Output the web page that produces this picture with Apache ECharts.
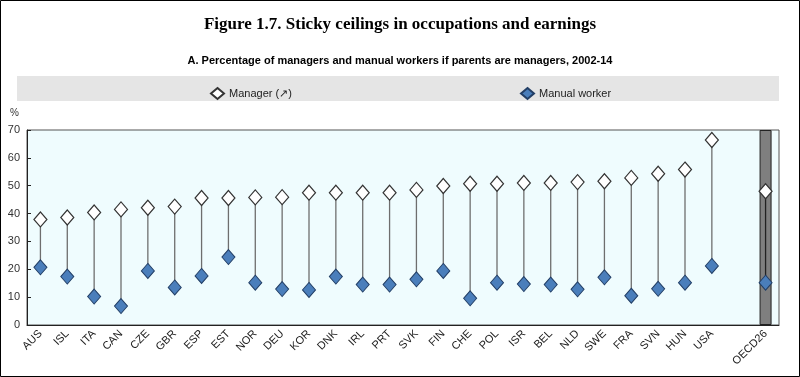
<!DOCTYPE html>
<html>
<head>
<meta charset="utf-8">
<script src="https://cdn.jsdelivr.net/npm/echarts@6/dist/echarts.min.js"></script>
<style>
  html, body { margin: 0; padding: 0; background: #fff; }
  #main { width: 800px; height: 377px; }
</style>
</head>
<body>
<div id="main"></div>
<script>
var countries = ['AUS', 'ISL', 'ITA', 'CAN', 'CZE', 'GBR', 'ESP', 'EST', 'NOR', 'DEU', 'KOR', 'DNK', 'IRL', 'PRT',
  'SVK', 'FIN', 'CHE', 'POL', 'ISR', 'BEL', 'NLD', 'SWE', 'FRA', 'SVN', 'HUN', 'USA', '', 'OECD26'];
var manager = [37.9, 38.6, 40.4, 41.5, 42.1, 42.5, 45.6, 45.6, 45.8, 45.9, 47.5, 47.5, 47.5, 47.5,
  48.5, 49.9, 50.7, 50.7, 51.0, 51.0, 51.3, 51.6, 52.8, 54.3, 55.8, 66.4, null, 48.0];
var manual = [20.7, 17.4, 10.2, 6.8, 19.4, 13.5, 17.6, 24.4, 15.2, 12.9, 12.6, 17.4, 14.5, 14.5,
  16.4, 19.4, 9.6, 15.2, 14.7, 14.5, 12.8, 17.1, 10.5, 13.0, 15.2, 21.2, null, 15.2];
var yTicks = [0, 10, 20, 30, 40, 50, 60, 70];
var highlight = 'OECD26';

var chart = echarts.init(document.getElementById('main'));

// whisker lines + the grey OECD band, built from the arrays above
var ranges = [];
var band = [];
for (var i = 0; i < countries.length; i++) {
  if (manager[i] != null) ranges.push([i, manual[i], manager[i]]);
  band.push(countries[i] === highlight ? yTicks[yTicks.length - 1] : null);
}

var sans = '"Liberation Sans Narrow", "Arial Narrow", "Liberation Sans", Arial, sans-serif';

var option = {
  backgroundColor: '#ffffff',
  animation: false,
  title: [{
    text: 'Figure 1.7. Sticky ceilings in occupations and earnings',
    left: 'center',
    top: 11,
    textStyle: { fontFamily: '"Liberation Serif", "Times New Roman", serif', fontSize: 17, fontWeight: 'bold', color: '#000' }
  }, {
    text: 'A. Percentage of managers and manual workers if parents are managers, 2002-14',
    left: 'center',
    top: 50,
    textStyle: { fontFamily: sans, fontSize: 11, fontWeight: 'bold', color: '#000' }
  }],
  graphic: [{
    type: 'rect',
    shape: { x: 17, y: 76, width: 762, height: 25 },
    style: { fill: '#e5e5e5' },
    z: -1
  }, {
    type: 'text',
    left: 10, top: 108,
    style: { text: '%', font: '10px ' + sans, fill: '#333' }
  }, {
    type: 'rect',
    shape: { x: 0.5, y: 0.5, width: 799, height: 376 },
    style: { fill: null, stroke: '#000', lineWidth: 1 }
  }],
  legend: [{
    data: ['Manager (↗)'],
    left: 205, top: 82,
    itemWidth: 13, itemHeight: 11, itemGap: 10,
    textStyle: { fontFamily: sans, fontSize: 11, color: '#222' }
  }, {
    data: ['Manual worker'],
    left: 515, top: 82,
    itemWidth: 13, itemHeight: 11,
    textStyle: { fontFamily: sans, fontSize: 11, color: '#222' }
  }],
  grid: {
    left: 27, right: 21, top: 130, bottom: 52,
    show: true,
    backgroundColor: '#effcfe',
    borderColor: '#555',
    borderWidth: 1
  },
  xAxis: {
    type: 'category',
    data: countries,
    boundaryGap: true,
    axisLine: { lineStyle: { color: '#222' } },
    axisTick: { inside: true, length: 4, lineStyle: { color: '#222' } },
    axisLabel: { rotate: 45, fontFamily: sans, fontSize: 11, color: '#222', margin: 7 }
  },
  yAxis: {
    type: 'value',
    min: 0, max: 70, interval: 10,
    axisLine: { show: true, lineStyle: { color: '#222' } },
    axisTick: { show: true, inside: true, length: 4, lineStyle: { color: '#222' } },
    axisLabel: { fontFamily: sans, fontSize: 11, color: '#333', margin: 7 },
    splitLine: { show: false }
  },
  series: [{
    type: 'bar',
    data: band,
    barWidth: 12,
    silent: true,
    itemStyle: { color: '#7f7f7f', borderColor: '#222', borderWidth: 1 },
    z: 1
  }, {
    type: 'custom',
    data: ranges,
    silent: true,
    z: 2,
    renderItem: function (params, api) {
      var lo = api.coord([api.value(0), api.value(1)]);
      var hi = api.coord([api.value(0), api.value(2)]);
      var isHi = countries[api.value(0)] === highlight;
      return {
        type: 'line',
        shape: { x1: lo[0], y1: lo[1], x2: hi[0], y2: hi[1] },
        style: { stroke: isHi ? '#222' : '#6e6e6e', lineWidth: 1.3 }
      };
    }
  }, {
    name: 'Manager (↗)',
    type: 'scatter',
    data: manager,
    symbol: 'diamond',
    symbolSize: [13, 15],
    itemStyle: { color: '#ffffff', borderColor: '#333', borderWidth: 1.2, opacity: 1 },
    z: 3
  }, {
    name: 'Manual worker',
    type: 'scatter',
    data: manual,
    symbol: 'diamond',
    symbolSize: [13, 15],
    itemStyle: { color: '#4a7ebb', borderColor: '#233f66', borderWidth: 1, opacity: 1 },
    z: 3
  }]
};

chart.setOption(option);
</script>
</body>
</html>
